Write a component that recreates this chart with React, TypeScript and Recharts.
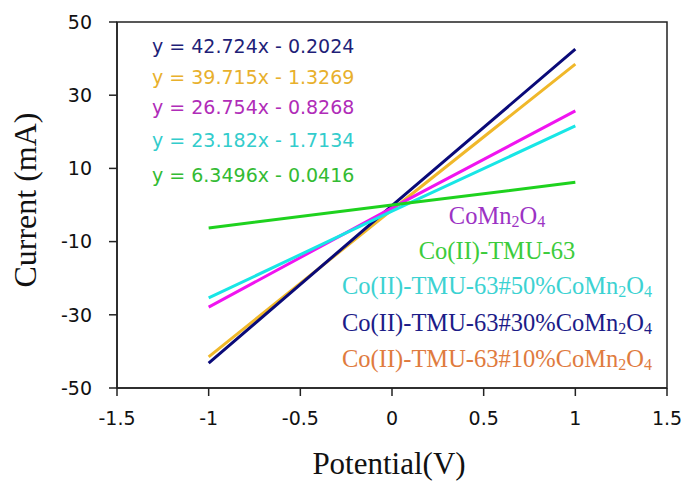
import React from "react"
import { LineChart, Line, XAxis, YAxis, ReferenceArea } from "recharts"

// potential (V) and measured current (mA) per sample
const potential = [-1, 0, 1]
const co10 = [-41.5, -1.3, 38.5]
const co30 = [-43.2, -0.2, 42.6]
const comn2o4 = [-27.9, -0.8, 25.7]
const co50 = [-25.4, -1.7, 21.6]
const tmu63 = [-6.3, 0, 6.2]

const xTicks = [-1.5, -1, -0.5, 0, 0.5, 1, 1.5]
const yTicks = [-50, -30, -10, 10, 30, 50]

const equations = [
    "y = 42.724x - 0.2024",
    "y = 39.715x - 1.3269",
    "y = 26.754x - 0.8268",
    "y = 23.182x - 1.7134",
    "y = 6.3496x - 0.0416",
]
const equationColors = ["#1f1f78", "#e8b02c", "#b02cb8", "#33cccc", "#33bb33"]
const equationBaselines = [53, 84, 114, 147, 182]

const legendPrefixes = ["", "Co(II)-TMU-63", "Co(II)-TMU-63#50%", "Co(II)-TMU-63#30%", "Co(II)-TMU-63#10%"]
const legendHasOxide = [true, false, true, true, true]
const legendColors = ["#9c33c4", "#3ccc3c", "#3cd2d2", "#1c1c88", "#e07b3e"]
const legendBaselines = [224, 259, 294, 331, 367]

const data = potential.map((x, i) => ({
    x,
    co10: co10[i],
    co30: co30[i],
    comn2o4: comn2o4[i],
    co50: co50[i],
    tmu63: tmu63[i],
}))

const tickStyle = { fontFamily: "DejaVu Sans", fontSize: 19, fill: "#111" }

function Oxide() {
    return (
        <>
            <tspan>CoMn</tspan>
            <tspan fontSize={16} dy={3}>2</tspan>
            <tspan dy={-3}>O</tspan>
            <tspan fontSize={16} dy={3}>4</tspan>
        </>
    )
}

function Annotations() {
    return (
        <g>
            {equations.map((eq, i) => (
                <text key={eq} x={152} y={equationBaselines[i]} fontFamily="DejaVu Sans" fontSize={19} fill={equationColors[i]}>
                    {eq}
                </text>
            ))}
            {legendPrefixes.map((p, i) => (
                <text
                    key={i}
                    x={497}
                    y={legendBaselines[i]}
                    textAnchor="middle"
                    fontFamily="Liberation Serif"
                    fontSize={24.5}
                    fill={legendColors[i]}
                >
                    {p}
                    {legendHasOxide[i] && <Oxide />}
                </text>
            ))}
            <text x={389} y={474} textAnchor="middle" fontFamily="Liberation Serif" fontSize={31} fill="#111">
                Potential(V)
            </text>
            <text
                x={36}
                y={200}
                textAnchor="middle"
                transform="rotate(-90 36 200)"
                fontFamily="Liberation Serif"
                fontSize={32}
                fill="#111"
            >
                Current (mA)
            </text>
        </g>
    )
}

export default function App() {
    return (
        <div style={{ position: "absolute", left: 0, top: 0, background: "#fff" }}>
            <LineChart width={688} height={484} data={data} margin={{ top: 22, right: 21, bottom: 36, left: 0 }}>
                <XAxis
                    dataKey="x"
                    type="number"
                    domain={[-1.5, 1.5]}
                    ticks={xTicks}
                    height={60}
                    tickSize={8}
                    tickMargin={16}
                    tick={tickStyle}
                    stroke="#222"
                    strokeWidth={1.5}
                />
                <YAxis
                    type="number"
                    domain={[-50, 50]}
                    ticks={yTicks}
                    width={117}
                    tickSize={8}
                    tickMargin={17}
                    tick={tickStyle}
                    stroke="#222"
                    strokeWidth={1.5}
                />
                <ReferenceArea x1={-1.5} x2={1.5} y1={-50} y2={50} fill="none" stroke="#222" strokeWidth={1.5} />
                <Line dataKey="co10" stroke="#f0b82a" strokeWidth={3} dot={false} isAnimationActive={false} />
                <Line dataKey="co30" stroke="#0a0a78" strokeWidth={3} dot={false} isAnimationActive={false} />
                <Line dataKey="comn2o4" stroke="#f014f0" strokeWidth={3} dot={false} isAnimationActive={false} />
                <Line dataKey="co50" stroke="#18e6e6" strokeWidth={3} dot={false} isAnimationActive={false} />
                <Line dataKey="tmu63" stroke="#1ed21e" strokeWidth={3} dot={false} isAnimationActive={false} />
                <Annotations />
            </LineChart>
        </div>
    )
}
